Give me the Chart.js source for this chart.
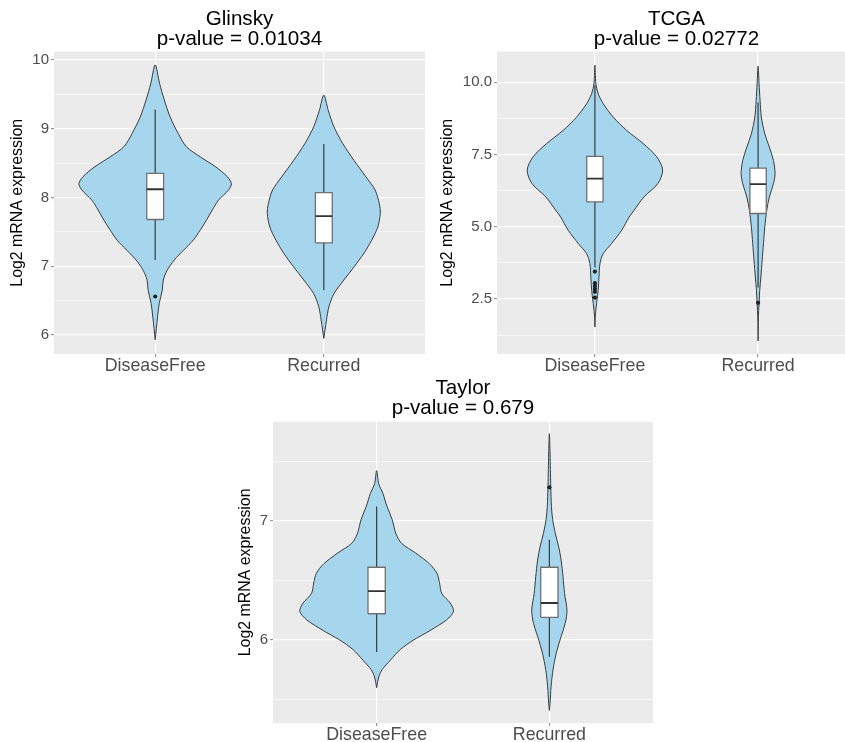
<!DOCTYPE html>
<html><head><meta charset="utf-8">
<script src="https://cdn.jsdelivr.net/npm/chart.js@4.4.1/dist/chart.umd.min.js"></script>
<style>
html,body{margin:0;padding:0;background:#fff;overflow:hidden;width:845px;height:742px;}
canvas{position:absolute;}
</style></head><body>
<canvas id="c1" width="430" height="375" style="left:0px;top:0px"></canvas>
<canvas id="c2" width="440" height="375" style="left:420px;top:0px"></canvas>
<canvas id="c3" width="440" height="372" style="left:220px;top:370px"></canvas>
<script>
// ---------------- DATA ----------------
const categories = ['DiseaseFree', 'Recurred'];
const xTickValues = [1, 2];
const panelNames = ['Glinsky', 'TCGA', 'Taylor'];
const pValues = ['0.01034', '0.02772', '0.679'];
const yAxisTitle = 'Log2 mRNA expression';

// Glinsky
const glinskyMajorTicks = [6, 7, 8, 9, 10];
const glinskyTickLabels = ['6', '7', '8', '9', '10'];
const glinskyMinorTicks = [6.5, 7.5, 8.5, 9.5];
const glinskyDFLevels = [9.93, 9.66, 9.42, 9.17, 8.93, 8.74, 8.59, 8.45, 8.30, 8.20, 8.11, 7.96, 7.82, 7.67, 7.53, 7.38, 7.23, 7.09, 6.94, 6.80, 6.65, 6.46, 6.26, 5.93];
const glinskyDFWidths = [0, 0.026, 0.054, 0.089, 0.137, 0.185, 0.268, 0.357, 0.429, 0.452, 0.435, 0.375, 0.339, 0.304, 0.268, 0.226, 0.167, 0.113, 0.071, 0.048, 0.042, 0.024, 0.014, 0];
const glinskyDFBox = [7.09, 7.68, 8.12, 8.35, 9.28];   // whisker low, Q1, median, Q3, whisker high
const glinskyDFOutliers = [6.56];
const glinskyRecLevels = [9.49, 9.27, 9.03, 8.79, 8.54, 8.30, 8.11, 7.91, 7.77, 7.57, 7.38, 7.19, 6.99, 6.80, 6.60, 6.41, 6.22, 5.95];
const glinskyRecWidths = [0, 0.026, 0.060, 0.111, 0.179, 0.250, 0.304, 0.329, 0.335, 0.320, 0.284, 0.238, 0.179, 0.119, 0.060, 0.030, 0.016, 0];
const glinskyRecBox = [6.65, 7.34, 7.73, 8.07, 8.78];
const glinskyRecOutliers = [];

// TCGA
const tcgaMajorTicks = [2.5, 5.0, 7.5, 10.0];
const tcgaTickLabels = ['2.5', '5.0', '7.5', '10.0'];
const tcgaMinorTicks = [1.25, 3.75, 6.25, 8.75];
const tcgaDFLevels = [10.59, 9.95, 9.61, 9.26, 8.80, 8.34, 7.88, 7.42, 6.96, 6.49, 6.03, 5.57, 5.34, 4.88, 4.42, 4.07, 3.73, 3.26, 2.80, 2.34, 1.88, 1.53];
const tcgaDFWidths = [0, 0.006, 0.020, 0.051, 0.112, 0.194, 0.296, 0.379, 0.415, 0.385, 0.300, 0.240, 0.210, 0.164, 0.102, 0.051, 0.031, 0.025, 0.020, 0.010, 0.002, 0];
const tcgaDFBox = [3.60, 5.86, 6.67, 7.44, 9.90];
const tcgaDFOutliers = [3.45, 3.05, 2.95, 2.85, 2.75, 2.55];
const tcgaRecLevels = [10.56, 9.95, 9.38, 8.80, 8.22, 7.76, 7.30, 6.84, 6.49, 6.03, 5.57, 4.99, 4.42, 3.84, 3.26, 2.80, 2.34, 1.88, 1.05];
const tcgaRecWidths = [0, 0.006, 0.012, 0.020, 0.041, 0.069, 0.094, 0.104, 0.094, 0.069, 0.053, 0.041, 0.033, 0.025, 0.017, 0.010, 0.006, 0.002, 0];
const tcgaRecBox = [2.90, 5.46, 6.48, 7.03, 9.30];
const tcgaRecOutliers = [2.37];

// Taylor
const taylorMajorTicks = [6, 7];
const taylorTickLabels = ['6', '7'];
const taylorMinorTicks = [5.5, 6.5, 7.5];
const taylorDFLevels = [7.42, 7.31, 7.23, 7.12, 7.01, 6.89, 6.81, 6.73, 6.64, 6.56, 6.48, 6.39, 6.31, 6.24, 6.17, 6.08, 6.00, 5.92, 5.83, 5.75, 5.69, 5.60];
const taylorDFWidths = [0, 0.012, 0.036, 0.060, 0.090, 0.112, 0.145, 0.225, 0.305, 0.349, 0.364, 0.377, 0.426, 0.445, 0.406, 0.310, 0.214, 0.137, 0.079, 0.031, 0.012, 0];
const taylorDFBox = [5.90, 6.22, 6.41, 6.61, 7.12];
const taylorDFOutliers = [];
const taylorRecLevels = [7.73, 7.56, 7.43, 7.29, 7.12, 7.01, 6.89, 6.78, 6.67, 6.53, 6.39, 6.25, 6.14, 6.03, 5.89, 5.75, 5.61, 5.47, 5.41];
const taylorRecWidths = [0, 0.004, 0.006, 0.008, 0.012, 0.019, 0.035, 0.054, 0.068, 0.079, 0.088, 0.102, 0.092, 0.068, 0.040, 0.021, 0.010, 0.004, 0];
const taylorRecBox = [5.86, 6.19, 6.31, 6.61, 6.84];
const taylorRecOutliers = [7.28];

// ---------------- STYLE / LAYOUT ----------------
const FONT = "'Liberation Sans', Arial, Helvetica, sans-serif";
Chart.defaults.font.family = FONT;
const VIOLIN_FILL = '#A6D5EE';
const VIOLIN_LINE = '#3c3c3c';
const BOX_HALF = 0.05;

const panelBg = {
  id: 'panelBg',
  beforeDraw(chart) {
    const {ctx, chartArea: a} = chart;
    ctx.save();
    ctx.fillStyle = '#EBEBEB';
    ctx.fillRect(a.left, a.top, a.right - a.left, a.bottom - a.top);
    ctx.restore();
  }
};

function violinPoints(center, levels, widths) {
  const pts = [];
  for (let i = levels.length - 1; i >= 0; i--) pts.push({x: center + widths[i], y: levels[i]});
  for (let i = 1; i < levels.length; i++) pts.push({x: center - widths[i], y: levels[i]});
  return pts;
}

function groupDatasets(center, levels, widths, box, outliers) {
  const [wLo, q1, med, q3, wHi] = box;
  const base = {type: 'line', pointRadius: 0, pointHoverRadius: 0, fill: false, tension: 0};
  return [
    Object.assign({}, base, {data: violinPoints(center, levels, widths), fill: 'shape',
      backgroundColor: VIOLIN_FILL, borderColor: VIOLIN_LINE, borderWidth: 1, tension: 0.3, order: 5}),
    Object.assign({}, base, {data: [{x: center, y: q3}, {x: center, y: wHi}], borderColor: '#3a3a3a', borderWidth: 1.2, order: 4}),
    Object.assign({}, base, {data: [{x: center, y: q1}, {x: center, y: wLo}], borderColor: '#3a3a3a', borderWidth: 1.2, order: 4}),
    Object.assign({}, base, {data: [{x: center - BOX_HALF, y: q1}, {x: center + BOX_HALF, y: q1}, {x: center + BOX_HALF, y: q3},
      {x: center - BOX_HALF, y: q3}, {x: center - BOX_HALF, y: q1}], fill: 'shape', backgroundColor: '#ffffff',
      borderColor: '#707070', borderWidth: 1.3, borderJoinStyle: 'miter', order: 3}),
    Object.assign({}, base, {data: [{x: center - BOX_HALF, y: med}, {x: center + BOX_HALF, y: med}], borderColor: '#333333', borderWidth: 1.8, order: 2}),
    {type: 'scatter', data: outliers.map(v => ({x: center, y: v})), pointRadius: 2.1, pointBackgroundColor: '#222',
      pointBorderWidth: 0, showLine: false, order: 1}
  ];
}

function makePanel(id, p) {
  const isMajor = v => p.major.indexOf(v) >= 0;
  return new Chart(document.getElementById(id), {
    type: 'line',
    data: {datasets: [].concat(...p.groups.map((g, i) => groupDatasets(xTickValues[i], g[0], g[1], g[2], g[3])))},
    options: {
      responsive: false, animation: false, events: [],
      layout: {padding: p.pad},
      plugins: {
        legend: {display: false}, tooltip: {enabled: false},
        title: {display: true, fullSize: false, text: [p.name, 'p-value = ' + p.pv], color: '#000',
          font: {size: 20.6, weight: 'normal', lineHeight: 0.95}, padding: p.titlePad}
      },
      scales: {
        x: {type: 'linear', min: 0.4, max: 2.6, bounds: 'data',
          afterBuildTicks: s => { s.ticks = xTickValues.map(v => ({value: v})); },
          afterFit: s => { s.height = p.xH; },
          ticks: {callback: (v, i) => categories[i], autoSkip: false, maxRotation: 0, color: '#4D4D4D',
            font: {size: 17.8, lineHeight: 1}, padding: 0},
          grid: {color: '#ffffff', lineWidth: 1.2, tickLength: 3, tickColor: '#666', tickWidth: 0.8},
          border: {display: false}
        },
        y: {type: 'linear', min: p.min, max: p.max, bounds: 'data',
          afterBuildTicks: s => { s.ticks = p.major.concat(p.minor).sort((a, b) => a - b).map(v => ({value: v})); },
          afterFit: s => { s.width = p.yW; },
          ticks: {callback: v => isMajor(v) ? p.labels[p.major.indexOf(v)] : '', autoSkip: false, color: '#4D4D4D',
            font: {size: 15}, padding: 2},
          grid: {color: '#ffffff', lineWidth: c => isMajor(c.tick.value) ? 1.2 : 0.6, tickLength: 3,
            tickColor: c => isMajor(c.tick.value) ? '#666' : 'rgba(0,0,0,0)', tickWidth: 0.8},
          border: {display: false},
          title: {display: true, text: yAxisTitle, color: '#000', font: {size: 15.9}, padding: {top: p.yTitlePad, bottom: 0}}
        }
      }
    },
    plugins: [panelBg]
  });
}

makePanel('c1', {name: panelNames[0], pv: pValues[0], min: 5.723, max: 10.124,
  major: glinskyMajorTicks, minor: glinskyMinorTicks, labels: glinskyTickLabels,
  groups: [[glinskyDFLevels, glinskyDFWidths, glinskyDFBox, glinskyDFOutliers],
           [glinskyRecLevels, glinskyRecWidths, glinskyRecBox, glinskyRecOutliers]],
  pad: {left: 0, right: 5, top: 0, bottom: 0}, titlePad: {top: 9.6, bottom: 2.8}, xH: 21, yW: 54, yTitlePad: 8.5});

makePanel('c2', {name: panelNames[1], pv: pValues[1], min: 0.597, max: 11.066,
  major: tcgaMajorTicks, minor: tcgaMinorTicks, labels: tcgaTickLabels,
  groups: [[tcgaDFLevels, tcgaDFWidths, tcgaDFBox, tcgaDFOutliers],
           [tcgaRecLevels, tcgaRecWidths, tcgaRecBox, tcgaRecOutliers]],
  pad: {left: 0, right: 4, top: 0, bottom: 0}, titlePad: {top: 9.6, bottom: 2.8}, xH: 21, yW: 77, yTitlePad: 18.5});

makePanel('c3', {name: panelNames[2], pv: pValues[2], min: 5.304, max: 7.830,
  major: taylorMajorTicks, minor: taylorMinorTicks, labels: taylorTickLabels,
  groups: [[taylorDFLevels, taylorDFWidths, taylorDFBox, taylorDFOutliers],
           [taylorRecLevels, taylorRecWidths, taylorRecBox, taylorRecOutliers]],
  pad: {left: 0, right: 7, top: 0, bottom: 0}, titlePad: {top: 8.6, bottom: 4.0}, xH: 19, yW: 53, yTitlePad: 16.3});
</script>
</body></html>
